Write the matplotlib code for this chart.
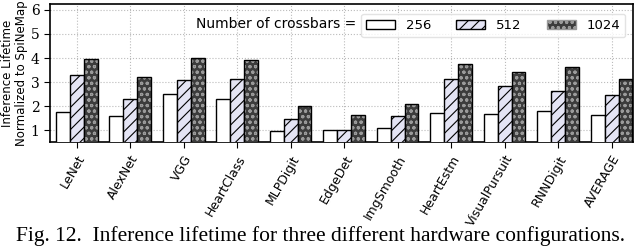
import numpy as np
import matplotlib.pyplot as plt
import matplotlib.patches as mpatches

# lifetime values
benchmarks = ['LeNet', 'AlexNet', 'VGG', 'HeartClass', 'MLPDigit', 'EdgeDet',
              'ImgSmooth', 'HeartEstm', 'VisualPursuit', 'RNNDigit', 'AVERAGE']
life_256 = [1.74, 1.60, 2.50, 2.32, 0.98, 1.00, 1.10, 1.71, 1.67, 1.80, 1.63]
life_512 = [3.28, 2.28, 3.08, 3.14, 1.46, 1.03, 1.60, 3.11, 2.85, 2.65, 2.45]
life_1024 = [3.95, 3.20, 3.99, 3.90, 2.01, 1.65, 2.11, 3.76, 3.43, 3.63, 3.15]
labels = ['256', '512', '1024']

plt.rcParams['hatch.linewidth'] = 0.8

fig = plt.figure(figsize=(6.4, 2.52), dpi=100)
ax = fig.add_axes([0.078, 0.435, 0.911, 0.55])

x = np.arange(len(benchmarks))
w = 0.26

ax.bar(x - w, life_256, w, color='white', edgecolor='black', linewidth=1, zorder=3, label=labels[0])
ax.bar(x, life_512, w, color='#e4e4f4', edgecolor='black', hatch='///', linewidth=1, zorder=3, label=labels[1])
# dark bars: hatch in light grey first, black outline on top
ax.bar(x + w, life_1024, w, color='#3c3c3c', edgecolor='#9a9a9a', hatch='ooo', linewidth=0, zorder=3)
ax.bar(x + w, life_1024, w, fill=False, edgecolor='black', linewidth=1, zorder=4)

h, l = ax.get_legend_handles_labels()
h.append(mpatches.Patch(facecolor='#3c3c3c', edgecolor='#9a9a9a', hatch='ooo'))
l.append(labels[2])
leg = ax.legend(h, l, ncol=3, loc='upper right', bbox_to_anchor=(0.998, 0.975),
                fontsize=9.5, frameon=True, handlelength=2.2, handleheight=0.75,
                columnspacing=1.9, handletextpad=0.8, borderpad=0.4, fancybox=True)
leg.get_frame().set_edgecolor('#dddddd')
ax.text(0.526, 0.855, 'Number of crossbars =', transform=ax.transAxes,
        fontsize=10, ha='right', va='center')

ax.set_ylim(0.5, 6.25)
ax.set_xlim(-0.5, len(benchmarks) - 0.6)
ax.set_yticks([1, 2, 3, 4, 5, 6])
ax.set_yticklabels(['1', '2', '3', '4', '5', '6'], family='DejaVu Serif')
ax.set_xticks(x)
ax.set_xticklabels(benchmarks, rotation=60, ha='right', rotation_mode='anchor', fontsize=9)
ax.tick_params(axis='y', labelsize=10, length=4)
ax.tick_params(axis='x', length=4)
ax.set_ylabel('Inference Lifetime\nNormalized to SpiNeMap', fontsize=8.5, linespacing=1.05, labelpad=2)
ax.grid(True, linestyle=':', color='#bbbbbb', linewidth=0.8, zorder=0)
for s in ax.spines.values():
    s.set_linewidth(1.2)

fig.text(0.5, 0.065, 'Fig. 12.  Inference lifetime for three different hardware configurations.',
         ha='center', va='center', fontsize=15.5, family='Liberation Serif')

fig.savefig('out.png', dpi=100)
